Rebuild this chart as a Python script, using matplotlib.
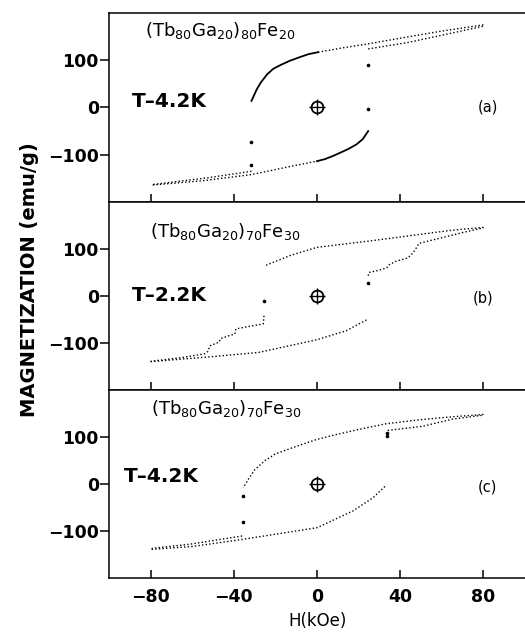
import matplotlib
matplotlib.use('Agg')
import matplotlib.pyplot as plt

# field H (kOe) and magnetization M (emu/g), read branch by branch

# (a) (Tb80Ga20)80Fe20, T=4.2K
a_down_h = [80, 59, 43, 25, 12, 0.5]
a_down_m = [175, 161, 149, 135, 126, 117]
a_arc_h = [0.5, -4, -8, -13, -17, -21, -24, -27, -29, -31.5]
a_arc_m = [117, 113, 107, 99, 91, 82, 70, 53, 38, 14]
a_jump1_h = [-31.5, -31.5]
a_jump1_m = [-74, -121]
a_left_h = [-31.5, -53, -79]
a_left_m = [-135, -149, -163]
a_up_h = [-79, -55, -31.5, -12, 0]
a_up_m = [-164, -155, -142, -124, -113.6]
a_uparc_h = [0, 4, 8, 11, 15, 19, 22, 24.6]
a_uparc_m = [-113.6, -109, -102, -96, -88, -78, -67, -50]
a_jump2_h = [24.6, 24.6]
a_jump2_m = [-4, 89]
a_right_h = [24.6, 43, 59, 80]
a_right_m = [124, 137, 152, 172]

# (b) (Tb80Ga20)70Fe30, T=2.2K
b_down_h = [80, 65, 51, 27, 0, -13, -25]
b_down_m = [146, 140, 132, 118, 103.5, 86, 64.5]
b_jump1_h = [-25.5]
b_jump1_m = [-11]
b_steps1_h = [-25.5, -25.8, -28, -33, -39, -39.5, -42, -46.5, -47, -51.5, -52.5, -54, -65, -80]
b_steps1_m = [-42, -59, -61, -65, -70, -81, -84, -91, -98, -106, -118, -123, -131, -139]
b_up_h = [-80, -53, -28, 0, 14, 24.6]
b_up_m = [-139.7, -130, -120, -93, -74, -49]
b_jump2_h = [24.6]
b_jump2_m = [28]
b_steps2_h = [24.6, 25, 30, 33.5, 34.5, 38, 43, 45, 46.5, 48, 49, 60, 70, 80]
b_steps2_m = [43, 50, 55, 60, 66, 74, 80, 86, 94, 104, 112, 124, 135, 145]

# (c) (Tb80Ga20)70Fe30, T=4.2K
c_down_h = [80, 65, 50, 33, 20, 10, 0, -10, -20, -25, -30, -33, -35.5]
c_down_m = [148, 143, 137, 128, 116, 106, 95, 80, 64, 50, 30, 10, -8]
c_jump1_h = [-35.7, -35.7]
c_jump1_m = [-25.5, -80]
c_left_h = [-36, -61, -79.5]
c_left_m = [-110.6, -128, -137]
c_up_h = [-79.5, -60, -36, 0, 17.4, 27, 33.4]
c_up_m = [-139, -133, -118, -93, -57, -29, -2]
c_jump2_h = [33.8, 33.8]
c_jump2_m = [102, 108]
c_right_h = [34, 51, 65, 80]
c_right_m = [114, 123, 138, 146.6]

x_ticks = [-80, -40, 0, 40, 80]
y_ticks = [-100, 0, 100]

plt.rcParams['font.family'] = 'DejaVu Sans'
plt.rcParams['mathtext.fontset'] = 'dejavusans'

DOT = dict(color='black', linestyle=(0, (1, 1.6)), linewidth=1.0)
SOLID = dict(color='black', linestyle='-', linewidth=1.3)
JUMP = dict(color='black', linestyle='none', marker='o', markersize=1.6)

fig = plt.figure(figsize=(5.25, 6.32), dpi=100)
left = 109 / 525
width = 1 - left
boxes = [(13, 202), (202, 390), (390, 578)]
axes = []
for top, bot in boxes:
    ax = fig.add_axes([left, 1 - bot / 632, width, (bot - top) / 632])
    axes.append(ax)
ax_a, ax_b, ax_c = axes

# panel a
ax_a.plot(a_down_h, a_down_m, **DOT)
ax_a.plot(a_arc_h, a_arc_m, **SOLID)
ax_a.plot(a_jump1_h, a_jump1_m, **JUMP)
ax_a.plot(a_left_h, a_left_m, **DOT)
ax_a.plot(a_up_h, a_up_m, **DOT)
ax_a.plot(a_uparc_h, a_uparc_m, **SOLID)
ax_a.plot(a_jump2_h, a_jump2_m, **JUMP)
ax_a.plot(a_right_h, a_right_m, **DOT)

# panel b
ax_b.plot(b_down_h, b_down_m, **DOT)
ax_b.plot(b_jump1_h, b_jump1_m, **JUMP)
ax_b.plot(b_steps1_h, b_steps1_m, **DOT)
ax_b.plot(b_up_h, b_up_m, **DOT)
ax_b.plot(b_jump2_h, b_jump2_m, **JUMP)
ax_b.plot(b_steps2_h, b_steps2_m, **DOT)

# panel c
ax_c.plot(c_down_h, c_down_m, **DOT)
ax_c.plot(c_jump1_h, c_jump1_m, **JUMP)
ax_c.plot(c_left_h, c_left_m, **DOT)
ax_c.plot(c_up_h, c_up_m, **DOT)
ax_c.plot(c_jump2_h, c_jump2_m, **JUMP)
ax_c.plot(c_right_h, c_right_m, **DOT)

formulas = [r'(Tb$_{80}$Ga$_{20}$)$_{80}$Fe$_{20}$',
            r'(Tb$_{80}$Ga$_{20}$)$_{70}$Fe$_{30}$',
            r'(Tb$_{80}$Ga$_{20}$)$_{70}$Fe$_{30}$']
formula_pos = [(-82.6, 152), (-80.5, 125.5), (-80, 148)]
temps = ['T–4.2K', 'T–2.2K', 'T–4.2K']
temp_pos = [(-88.8, 2), (-89, -11), (-93, 5)]
tags = ['(a)', '(b)', '(c)']
tag_pos = [(77.5, 0), (75, -4.6), (77.5, -6)]

for i, ax in enumerate(axes):
    ax.set_xlim(-100, 100)
    ax.set_ylim(-200, 200)
    ax.set_xticks(x_ticks)
    ax.set_yticks(y_ticks)
    ax.spines['right'].set_visible(False)
    for s in ax.spines.values():
        s.set_linewidth(1.1)
    ax.tick_params(axis='x', direction='in', length=6, width=1.1, pad=7,
                   labelsize=12.5, labelbottom=(i == 2))
    ax.tick_params(axis='y', direction='out', length=6.5, width=1.1, pad=0.8,
                   labelsize=12.5)
    for lab in ax.get_xticklabels() + ax.get_yticklabels():
        lab.set_fontweight('bold')
    # sample reference mark at the origin
    ax.plot([0], [0], marker='o', markersize=8.5, mfc='none', mec='black',
            mew=1.3, linestyle='none')
    ax.plot([0], [0], marker='+', markersize=11, mec='black', mew=1.0,
            linestyle='none')
    ax.text(*formula_pos[i], formulas[i], fontsize=13, va='baseline', ha='left')
    ax.text(*temp_pos[i], temps[i], fontsize=14.5, fontweight='bold',
            va='baseline', ha='left')
    ax.text(*tag_pos[i], tags[i], fontsize=10.5, va='center', ha='left')

fig.text(30 / 525, 1 - 280 / 632, 'MAGNETIZATION (emu/g)', rotation=90,
         ha='center', va='center', fontsize=14, fontweight='bold')
fig.text(318 / 525, 1 - 621 / 632, 'H(kOe)', ha='center', va='center', fontsize=12)

fig.savefig('out.png', dpi=100)
